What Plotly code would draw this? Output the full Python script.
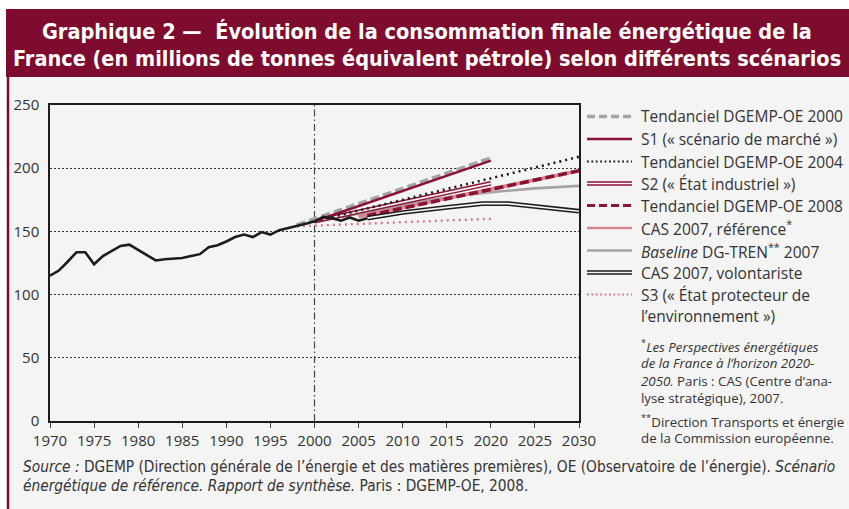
import plotly.graph_objects as go

# ---------------- data ----------------
hist_years = list(range(1970, 2007))
hist_values = [115, 119, 126, 133.5, 133.5, 124, 130.5, 134.5, 138.5, 139.5,
               135.5, 131, 127, 128, 128.5, 129, 130.5, 132, 137.5, 139,
               142, 145.5, 147.5, 145.5, 149.5, 147.5, 151, 152.5, 154.5, 156,
               158, 161.5, 160.5, 158.5, 161, 158.5, 160.5]

t2000_years = [1998, 2020]
t2000_values = [155, 208]

s1_years = [2000, 2020]
s1_values = [158, 206]

t2004_years = [2000, 2030]
t2004_values = [158, 209]

s2_years = [2000, 2020]
s2_values = [158, 188]

t2008_years = [2006, 2030]
t2008_values = [162.5, 198]

casref_years = [2005, 2030]
casref_values = [161.5, 198]

baseline_years = [2000, 2005, 2010, 2015, 2020, 2025, 2030]
baseline_values = [158, 164, 171, 177, 181, 184, 186]

casvol_years = [2006, 2010, 2015, 2019, 2022, 2030]
casvol_values = [160.5, 165, 169, 172, 172, 166]

s3_years = [1998, 2020]
s3_values = [154, 160]

x_ticks = [1970, 1975, 1980, 1985, 1990, 1995, 2000, 2005, 2010, 2015, 2020, 2025, 2030]
y_ticks = [0, 50, 100, 150, 200, 250]

# ---------------- style ----------------
W, H = 849, 509
L, R, T, B = 50, 579, 105, 421
BG = "#f4f4f4"
BANNER = "#7e0c2e"
DARKRED = "#8c1236"
PINK = "#d4868c"
GREY = "#a4a4a4"
BLACK = "#1c1c1c"
TXT = "#333333"
FONT = "Open Sans, Noto Sans, sans-serif"
NARROW = "DejaVu Sans Condensed, Liberation Sans Narrow, sans-serif"


def px(x):
    return (x - L) / (R - L)


def py(y):
    return (B - y) / (B - T)


fig = go.Figure()


def line(xs, ys, color, width, dash="solid"):
    fig.add_trace(go.Scatter(x=xs, y=ys, mode="lines", showlegend=False,
                             hoverinfo="skip",
                             line=dict(color=color, width=width, dash=dash)))


def double(xs, ys, color):
    line(xs, ys, color, 4.6)
    line(xs, ys, BG, 1.6)


line(s3_years, s3_values, "#d77a84", 2.4, "2px,4px")
line(baseline_years, baseline_values, GREY, 2.6)
line(casref_years, casref_values, PINK, 3.6)
line(t2008_years, t2008_values, DARKRED, 3.6, "9px,4px")
double(casvol_years, casvol_values, BLACK)
double(s2_years, s2_values, DARKRED)
line(t2004_years, t2004_values, BLACK, 2.6, "2px,4px")
line(t2000_years, t2000_values, GREY, 3.8, "9px,4px")
line(s1_years, s1_values, DARKRED, 2.6)
line(hist_years, hist_values, BLACK, 2.6)

shapes = []
# grey content area
shapes.append(dict(type="rect", xref="paper", yref="paper",
                   x0=px(8), x1=px(W + 5), y0=py(H + 5), y1=py(76),
                   fillcolor=BG, line=dict(width=0), layer="below"))
# banner
shapes.append(dict(type="rect", xref="paper", yref="paper",
                   x0=px(6), x1=px(W + 5), y0=py(77), y1=py(9),
                   fillcolor=BANNER, line=dict(width=0), layer="below"))
# left red rule
shapes.append(dict(type="line", xref="paper", yref="paper",
                   x0=px(8), x1=px(8), y0=py(H + 5), y1=py(76),
                   line=dict(color=BANNER, width=2.5), layer="below"))
# year 2000 marker line
shapes.append(dict(type="line", xref="x", yref="paper", x0=2000, x1=2000,
                   y0=0, y1=1, line=dict(color="#444444", width=1.2,
                                         dash="7px,3px,1.5px,3px"),
                   layer="below"))

# ---------------- legend (manual) ----------------
legend_rows = [
    ("Tendanciel DGEMP-OE 2000", GREY, 3.6, "8px,4px", False),
    ("S1 (« scénario de marché »)", DARKRED, 2.6, "solid", False),
    ("Tendanciel DGEMP-OE 2004", BLACK, 1.8, "1.8px,2.6px", False),
    ("S2 (« État industriel »)", DARKRED, 4.6, "solid", True),
    ("Tendanciel DGEMP-OE 2008", DARKRED, 3.2, "8px,4px", False),
    ("CAS 2007, référence<sup>*</sup>", PINK, 2.6, "solid", False),
    ("<i>Baseline</i> DG-TREN<sup>**</sup> 2007", GREY, 2.6, "solid", False),
    ("CAS 2007, volontariste", BLACK, 4.6, "solid", True),
    ("S3 (« État protecteur de", "#d77a84", 1.8, "1.8px,2.6px", False),
]
row_y = [116.5, 139, 161.5, 183.5, 205.5, 228, 250.5, 272.5, 294.5]
annotations = []
for (label, col, w, dash, dbl), yy in zip(legend_rows, row_y):
    shapes.append(dict(type="line", xref="paper", yref="paper",
                       x0=px(587), x1=px(632), y0=py(yy), y1=py(yy),
                       line=dict(color=col, width=w, dash=dash)))
    if dbl:
        shapes.append(dict(type="line", xref="paper", yref="paper",
                           x0=px(587), x1=px(632), y0=py(yy), y1=py(yy),
                           line=dict(color=BG, width=1.5)))
    annotations.append(dict(text=label, xref="paper", yref="paper",
                            x=px(639), y=py(yy), xanchor="left", yanchor="middle",
                            showarrow=False, font=dict(size=15.5, color=TXT, family=FONT)))
annotations.append(dict(text="l’environnement »)", xref="paper", yref="paper",
                        x=px(639), y=py(315.5), xanchor="left", yanchor="middle",
                        showarrow=False, font=dict(size=15.5, color=TXT, family=FONT)))

# footnotes
foot1 = ["<sup>*</sup><i>Les Perspectives énergétiques</i>",
         "<i>de la France à l’horizon 2020-</i>",
         "<i>2050.</i> Paris : CAS (Centre d’ana-",
         "lyse stratégique), 2007."]
foot2 = ["<sup>**</sup>Direction Transports et énergie",
         "de la Commission européenne."]
for txt, yy in zip(foot1 + foot2, [345.5, 363, 380.5, 398, 420.5, 438]):
    annotations.append(dict(text=txt, xref="paper", yref="paper",
                            x=px(639), y=py(yy), xanchor="left", yanchor="middle",
                            showarrow=False, font=dict(size=13.3, color=TXT, family=FONT)))

# title
for txt, yy in [("Graphique 2 —  Évolution de la consommation finale énergétique de la", 31),
                ("France (en millions de tonnes équivalent pétrole) selon différents scénarios", 58)]:
    annotations.append(dict(text="<b>" + txt + "</b>", xref="paper", yref="paper",
                            x=px(427), y=py(yy), xanchor="center", yanchor="middle",
                            showarrow=False,
                            font=dict(size=21.5, color="white", family=NARROW)))

# source
for txt, yy in [("<i>Source :</i> DGEMP (Direction générale de l’énergie et des matières premières), OE (Observatoire de l’énergie). <i>Scénario</i>", 467),
                ("<i>énergétique de référence. Rapport de synthèse.</i> Paris : DGEMP-OE, 2008.", 486)]:
    annotations.append(dict(text=txt, xref="paper", yref="paper",
                            x=px(21), y=py(yy), xanchor="left", yanchor="middle",
                            showarrow=False,
                            font=dict(size=15.3, color=TXT, family=NARROW)))

fig.update_layout(
    width=W, height=H,
    margin=dict(l=L, r=W - R, t=T, b=H - B, pad=0),
    paper_bgcolor="white", plot_bgcolor=BG,
    showlegend=False,
    shapes=shapes, annotations=annotations,
    font=dict(family=FONT, color=TXT),
    xaxis=dict(range=[1970, 2030], tickvals=x_ticks, ticks="outside", ticklen=5,
               tickcolor="#444", showgrid=False, zeroline=False,
               showline=True, linecolor=BLACK, linewidth=1.5, mirror=True,
               tickfont=dict(size=15, color=TXT, family=FONT)),
    yaxis=dict(range=[0, 250], tickvals=y_ticks, ticks="", showgrid=True,
               gridcolor="#333", griddash="2px,2px", gridwidth=1,
               zeroline=False, showline=True, linecolor=BLACK, linewidth=1.5,
               mirror=True, ticklabelstandoff=6,
               tickfont=dict(size=15, color=TXT, family=FONT)),
)

fig.write_html("out.html",
               config={"displayModeBar": False},
               post_script="document.body.style.margin='0';document.body.style.overflow='hidden';")
